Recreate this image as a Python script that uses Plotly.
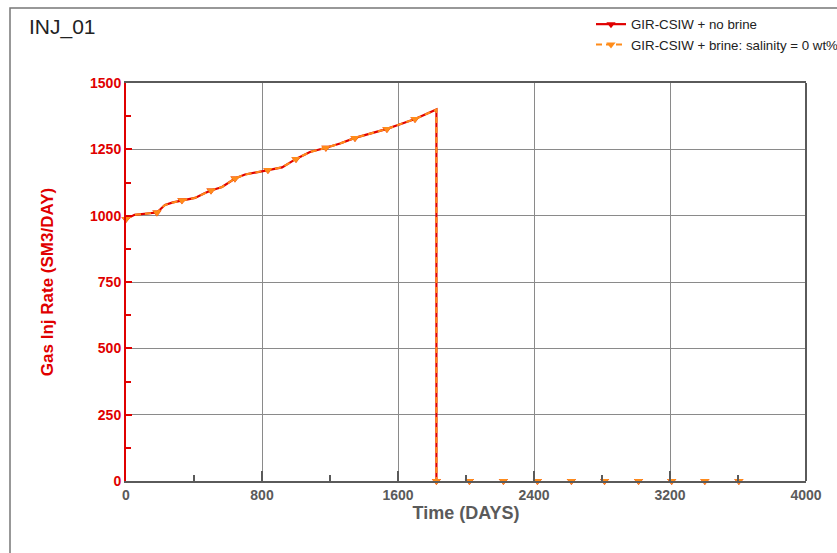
import plotly.graph_objects as go

# ---- data ----
days = [0, 50, 182, 229, 276, 329, 406, 465, 500, 565, 641, 700, 788, 835, 918,
        1000, 1082, 1176, 1259, 1347, 1440, 1535, 1600, 1700, 1826, 1826,
        2020, 2220, 2420, 2620, 2815, 3015, 3210, 3405, 3605, 3650]
rate_no_brine = [987, 1003, 1012, 1040, 1050, 1058, 1067, 1085, 1095, 1108, 1140, 1155,
                 1166, 1172, 1182, 1214, 1240, 1256, 1272, 1293, 1310, 1327, 1342, 1364,
                 1400, 0, 0, 0, 0, 0, 0, 0, 0, 0, 0, 0]
rate_brine = list(rate_no_brine)
marker_idx = [0, 2, 5, 8, 10, 13, 15, 17, 19, 21, 23, 25,
              26, 27, 28, 29, 30, 31, 32, 33, 34]
names = ["GIR-CSIW + no brine", "GIR-CSIW + brine: salinity = 0 wt%"]
title_text = "INJ_01"
x_ticks = [0, 800, 1600, 2400, 3200, 4000]
y_ticks = [0, 250, 500, 750, 1000, 1250, 1500]

RED = "#e00000"
ORANGE = "#ff8c1a"
GRAY = "#5a5a5a"
FONT = "Liberation Sans, Arial, sans-serif"

n_line = 26  # the line after the drop lies under the x axis

fig = go.Figure()
series = [(rate_no_brine, RED, dict(color=RED, width=2.2)),
          (rate_brine, ORANGE, dict(color=ORANGE, width=2, dash="6px,4px"))]
for (vals, col, ln), nm in zip(series, names):
    fig.add_trace(go.Scatter(x=days[:n_line], y=vals[:n_line], mode="lines",
                             line=ln, showlegend=False, hoverinfo="skip"))
    fig.add_trace(go.Scatter(x=[days[i] for i in marker_idx], y=[vals[i] for i in marker_idx],
                             mode="markers", showlegend=False, cliponaxis=False,
                             marker=dict(symbol="triangle-down", size=8, color=col, line=dict(width=0))))
    fig.add_trace(go.Scatter(x=[None], y=[None], name=nm, mode="lines+markers", line=ln,
                             marker=dict(symbol="triangle-down", size=8, color=col, line=dict(width=0))))

L, R, T, B = 126, 31, 83, 72
W, H = 837, 553
pw, ph = W - L - R, H - T - B

def px(xp):
    return (xp - L) / pw

def py(yp):
    return (H - B - yp) / ph

fig.update_layout(
    width=W, height=H,
    margin=dict(l=L, r=R, t=T, b=B, autoexpand=False),
    paper_bgcolor="white", plot_bgcolor="white",
    font=dict(family=FONT, color="#222"),
    showlegend=True,
    legend=dict(x=px(591), y=py(9), xanchor="left", yanchor="top",
                bgcolor="rgba(0,0,0,0)", font=dict(size=13.3, color="#222"),
                tracegroupgap=0),
    xaxis=dict(range=[0, 4000], tickvals=x_ticks, showgrid=True, gridcolor="#8a8a8a",
               gridwidth=1, showline=True, linecolor=GRAY, linewidth=2, mirror=True,
               ticks="inside", ticklen=10, tickcolor=GRAY, tickwidth=1.5,
               minor=dict(dtick=400, ticks="inside", ticklen=6, tickcolor=GRAY, showgrid=False),
               tickfont=dict(size=14, color=GRAY, family=FONT, weight="bold"),
               title=dict(text="Time (DAYS)", font=dict(size=18, color=GRAY, family=FONT, weight="bold"),
                          standoff=4),
               zeroline=False),
    yaxis=dict(range=[0, 1500], tickvals=y_ticks, showgrid=True, gridcolor="#8a8a8a",
               gridwidth=1, showline=True, linecolor=RED, linewidth=2,
               ticks="inside", ticklen=6, tickcolor=RED, tickwidth=1.5,
               minor=dict(dtick=125, ticks="inside", ticklen=5, tickcolor=RED, showgrid=False),
               tickfont=dict(size=14, color=RED, family=FONT, weight="bold"),
               title=dict(text="Gas Inj Rate (SM3/DAY)", font=dict(size=17, color=RED, family=FONT, weight="bold"),
                          standoff=32),
               zeroline=False),
    shapes=[
        dict(type="line", xref="paper", yref="paper", x0=1, x1=1, y0=0, y1=1,
             line=dict(color=GRAY, width=2)),
        dict(type="rect", xref="paper", yref="paper", x0=px(10), x1=px(860), y0=py(8), y1=py(570),
             line=dict(color="#777777", width=1.5), layer="below"),
    ],
    annotations=[
        dict(text=title_text, xref="paper", yref="paper", x=px(27), y=py(27),
             xanchor="left", yanchor="middle", showarrow=False,
             font=dict(size=21, color="#222", family=FONT)),
    ],
)

fig.write_html("out.html")
